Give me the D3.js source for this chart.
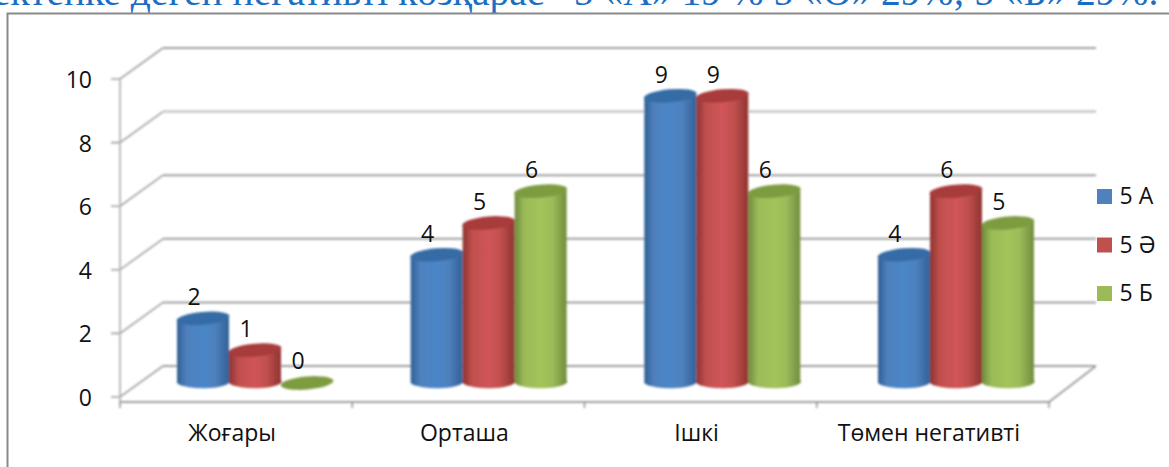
<!DOCTYPE html>
<html><head><meta charset="utf-8">
<style>html,body{margin:0;padding:0;background:#fff}svg{display:block}</style>
<script src="https://cdn.jsdelivr.net/npm/d3@7/dist/d3.min.js"></script></head>
<body><svg id="c" width="1169" height="467"></svg>
<script>
const categories = ["Жоғары","Орташа","Ішкі","Төмен негативті"];
const seriesNames = ["5 А","5 Ә","5 Б"];
const valuesA = [2,4,9,4];
const valuesE = [1,5,9,6];
const valuesB = [0,6,6,5];
const yTicks = [0,2,4,6,8,10];
const titleText = "ектенке деген негативті көзқарас   5 «А» 19 % 5 «Ә» 29%; 5 «Б» 29%.";
const seriesValues = [valuesA,valuesE,valuesB];
const palette = [
 {main:"#4f81bd",light:"#4a86c8",dark:"#2f5f95",top:"#356ca6"},
 {main:"#c0504d",light:"#d0545a",dark:"#8c3230",top:"#a83a3a"},
 {main:"#9bbb59",light:"#a3c35a",dark:"#6f8a3c",top:"#7d9c40"}];

const svg = d3.select("#c");
const defs = svg.append("defs");
palette.forEach((p,i)=>{
  const g = defs.append("linearGradient").attr("id","g"+i).attr("x1",0).attr("x2",1).attr("y1",0).attr("y2",0);
  [[0,p.dark],[.18,p.main],[.5,p.light],[.72,p.main],[1,p.dark]].forEach(s=>g.append("stop").attr("offset",s[0]).attr("stop-color",s[1]));
});
defs.append("filter").attr("id","soft").append("feGaussianBlur").attr("stdDeviation",0.8);

const left=120,right=1049,depthX=43,depthY=30;
const y = d3.scaleLinear().domain([0,10]).range([397,79]);
const x = d3.scaleBand().domain(categories).range([left,right]);
const font = "'Open Sans','Noto Sans',sans-serif";

// title
svg.append("text").attr("x",-7).attr("y",5).attr("font-family","'Liberation Serif',serif")
  .attr("font-size",39.5).attr("fill","#1a6fc4").attr("xml:space","preserve").style("white-space","pre").text(titleText);
// frame
svg.append("path").attr("d","M7.5,467V13.5H1169").attr("fill","none").attr("stroke","#8a8a8a").attr("stroke-width",2);

const plot = svg.append("g").attr("filter","url(#soft)");
// walls / gridlines
yTicks.forEach(t=>{
  plot.append("path").attr("d",d3.line()([[left-9,y(t)],[left,y(t)],[left+depthX,y(t)-depthY-1]]))
    .attr("fill","none").attr("stroke","#a0a0a0").attr("stroke-width",1.6);
  plot.append("line").attr("x1",left+depthX).attr("x2",right+depthX+4).attr("y1",y(t)-depthY-1).attr("y2",y(t)-depthY-1)
    .attr("stroke",t===8?"#cfcfcf":"#a0a0a0").attr("stroke-width",t===8?3:2);
});
plot.append("line").attr("x1",left).attr("x2",left).attr("y1",y(10)).attr("y2",403).attr("stroke","#b5b5b5").attr("stroke-width",1.8);
// floor
plot.append("path").attr("d",d3.line()([[left,402],[right,402],[right+depthX+4,y(0)-depthY-1]])).attr("fill","none").attr("stroke","#a0a0a0").attr("stroke-width",2);
const catEdges = categories.map(c=>x(c)).concat([right]);
catEdges.forEach(e=>plot.append("line").attr("x1",e).attr("x2",e).attr("y1",402).attr("y2",408).attr("stroke","#8a8a8a").attr("stroke-width",1.4));

// bars
const barW = 52, groupOff = 57, rx = barW/2, ry = 6.5, lift = 15;
const barX = (c,ci,si)=>x(c)+groupOff+si*barW+ci*1.4;
const topEll = (g,cx,cy,fill)=>g.append("ellipse").attr("cx",cx).attr("cy",cy).attr("rx",rx+.5).attr("ry",ry)
   .attr("transform",`rotate(-5 ${cx} ${cy})`).attr("fill",fill);
categories.forEach((c,ci)=>{
  seriesNames.forEach((s,si)=>{
    const v = seriesValues[si][ci];
    const bx = barX(c,ci,si);
    const cx = bx+rx, base=y(0)-lift+1, topY=y(v)-lift;
    const g = plot.append("g");
    if(v>0){
      g.append("path").attr("d",`M${bx},${topY+1}V${base}A${rx},${ry} 0 0 0 ${bx+barW},${base-3}V${topY-1}Z`).attr("fill",`url(#g${si})`);
    }
    topEll(g,cx,v>0?topY:base,palette[si].top);
  });
});

// y tick labels
const textSize=23;
yTicks.forEach(t=>svg.append("text").attr("x",92).attr("y",y(t)+9).attr("text-anchor","end")
  .attr("font-family",font).attr("font-size",textSize).attr("fill","#111").text(t));
// category labels
categories.forEach(c=>svg.append("text").attr("x",x(c)+x.bandwidth()/2-4).attr("y",441).attr("text-anchor","middle")
  .attr("font-family",font).attr("font-size",textSize).attr("fill","#111").text(c));
// data labels
categories.forEach((c,ci)=>seriesNames.forEach((s,si)=>{
  const v=seriesValues[si][ci];
  svg.append("text").attr("x",barX(c,ci,si)+17).attr("y",y(v)-lift-13).attr("text-anchor","middle")
   .attr("font-family",font).attr("font-size",textSize).attr("fill","#111").text(v);
}));
// legend
const leg = d3.scalePoint().domain(seriesNames).range([196.5,293.5]);
seriesNames.forEach((s,i)=>{
  svg.append("rect").attr("x",1097).attr("y",leg(s)-7.5).attr("width",15).attr("height",15).attr("fill",palette[i].main);
  svg.append("text").attr("x",1119.5).attr("y",leg(s)+7.5).attr("font-family",font).attr("font-size",textSize).attr("fill","#111").text(s);
});
</script></body></html>
